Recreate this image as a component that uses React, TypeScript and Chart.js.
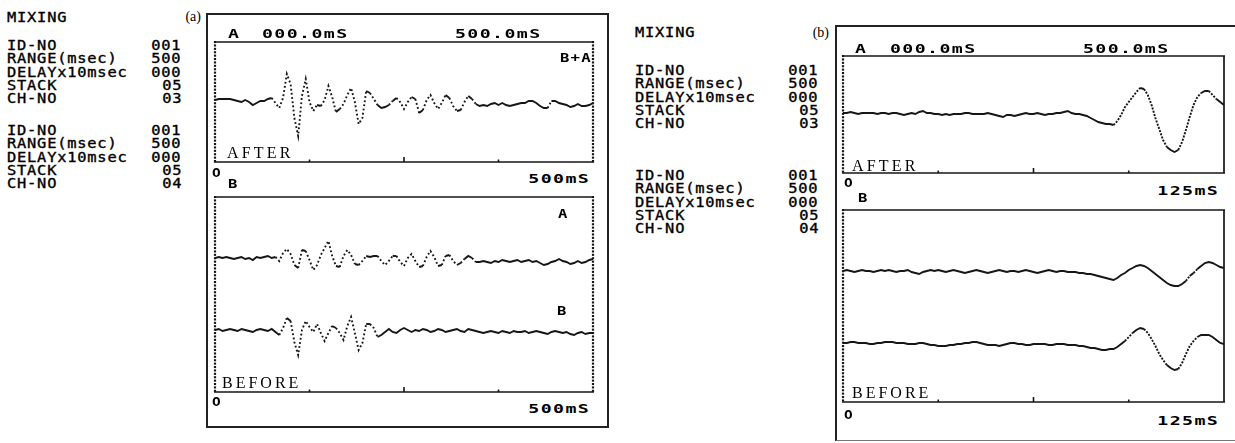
import React, { useEffect, useRef } from "react";
import { Chart, registerables } from "chart.js";

Chart.register(...registerables);

// ---------------- data ----------------
const A_RANGE_MS = 500;
const A_STEP_MS = 5;
const B_RANGE_MS = 125;
const B_STEP_MS = 1.25;

// (a) AFTER, trace "B+A" (amplitude, screen px units, + = up)
const aAfterBplusA = [
  0, 1, 1, 1, 1, 0, -1, -2, 0, -2,
  -5, -3, -1, -1, 1, 2, -3, -8, 2, 26,
  16, -18, -36, 4, 21, -2, -11, -5, -6, 0,
  14, 3, -12, -9, -4, 5, 12, -2, -24, -18,
  9, 7, 1, -5, -8, -7, -5, -1, 2, -2,
  -9, -2, 3, 1, -13, -10, 0, 5, -3, -9,
  -3, 5, 2, -6, -11, -10, -2, 4, 1, -4,
  -6, -5, -6, -4, -3, -5, -3, -5, -6, -5,
  -4, -3, -3, -1, -1, -3, -6, -8, -8, -1,
  -1, -3, -4, -5, -7, -6, -4, -6, -6, -5,
  -3,
];
// (a) BEFORE, trace "A"
const aBeforeA = [
  0, 1, 0, 1, 0, -1, 0, 1, -1, 0,
  -2, 1, 0, 1, 2, 0, 1, -3, 5, 9,
  4, -7, -10, 8, 7, -2, -12, -7, 3, 10,
  17, 2, -8, -9, 2, 8, 3, -6, -7, -3,
  2, 1, 2, 2, -3, -7, -3, 2, 2, -4,
  -8, 0, 4, -3, -9, -8, 1, 7, 1, -8,
  -7, 2, 3, -3, -7, -5, -1, 2, 0, -4,
  -4, -3, -4, -5, -3, -4, -2, -3, -4, -3,
  -2, -4, -3, -2, -4, -3, -5, -7, -6, -4,
  -3, -1, -3, -4, -6, -5, -3, -5, -4, -2,
  -1,
];
// (a) BEFORE, trace "B"
const aBeforeB = [
  0, 1, -1, 0, 1, 0, -1, 1, 0, -1,
  -2, 0, 1, 0, -1, 1, -2, -5, 2, 12,
  9, -12, -25, 0, 9, 3, -2, 6, -3, -11,
  -3, 4, 2, -3, -10, 4, 13, -3, -20, -13,
  6, 6, 2, -7, -5, -2, 1, -2, -3, 0,
  2, 0, -2, 0, -1, 1, 0, -2, -1, 1,
  0, -2, -1, 0, 1, -1, -2, 1, 0, -1,
  -2, -3, -2, -1, -2, -3, -1, -2, -3, -1,
  -2, -2, -1, -3, -2, -1, -2, -3, -4, -2,
  -1, -2, -3, -2, -4, -5, -3, -2, -4, -3,
  -3,
];
// (b) AFTER
const bAfter = [
  0, 0, 1, 0, -1, 0, 0, 0, 0, -1,
  0, 0, -1, 0, 0, -1, -2, -1, 0, -1,
  1, 2, 0, 0, -1, -1, -2, -1, -2, -1,
  -1, -1, 0, 0, -1, -1, -1, -1, 0, -1,
  -2, -3, -4, -2, -2, -3, -2, -1, 0, -1,
  -1, 0, -1, -2, -1, -1, 0, 0, 1, 2,
  0, -1, -1, -2, -3, -5, -7, -9, -10, -11,
  -11, -12, -8, -2, 6, 11, 16, 21, 25, 24,
  18, 8, -5, -16, -27, -34, -37, -39, -37, -29,
  -17, -4, 8, 16, 20, 22, 22, 18, 14, 11,
  8,
];
// (b) BEFORE, upper trace
const bBeforeA = [
  0, 1, 0, -1, 0, 1, 0, 0, -1, 0,
  1, 0, 1, 0, -1, 0, 0, 1, -1, -2,
  -3, -1, 0, 1, 0, 1, 0, -1, 0, 1,
  0, -1, -2, -1, 0, 1, 0, -1, -2, -1,
  0, 1, 0, -1, 0, 0, -1, 0, 1, 0,
  -1, -2, -1, 0, 1, 0, -1, 0, 0, -1,
  -1, -1, -2, -2, -3, -3, -4, -5, -6, -7,
  -8, -9, -7, -4, -2, 1, 3, 5, 6, 5,
  3, 0, -3, -6, -9, -12, -14, -15, -15, -13,
  -10, -5, -2, 2, 5, 8, 9, 8, 6, 4,
  3,
];
// (b) BEFORE, lower trace
const bBeforeB = [
  0, 0, 1, 1, 0, 0, 0, -1, -1, 0,
  0, 1, 1, 1, 0, 0, 0, -1, -1, -1,
  0, 0, -1, -2, -2, -3, -3, -3, -2, -2,
  -1, -1, 0, 0, 1, 1, 0, -1, -2, -2,
  -2, -3, -2, -1, 0, 0, -1, -1, -2, -2,
  -1, -1, -1, -1, -2, -2, -1, -1, -1, -2,
  -2, -2, -3, -3, -4, -5, -5, -6, -7, -7,
  -6, -6, -4, -1, 2, 6, 10, 13, 15, 14,
  10, 4, -3, -11, -17, -22, -25, -27, -26, -20,
  -11, -3, 2, 6, 8, 8, 8, 6, 3, 0,
  -1,
];

const infoLabels = ["ID-NO", "RANGE(msec)", "DELAYx10msec", "STACK", "CH-NO"];
const infoValuesCh3 = ["001", "500", "000", "05", "03"];
const infoValuesCh4 = ["001", "500", "000", "05", "04"];

// ---------------- style ----------------
const PAGE_W = 1235;
const PAGE_H = 443;
const INK = "#161616";
const MONO = '"DejaVu Sans Mono", "Liberation Mono", monospace';
const SERIF = '"Liberation Serif", "DejaVu Serif", serif';
const PAD = 6;

type Box = { x: number; y: number; w: number; h: number };
type Series = { values: number[]; min: number; max: number; dash: number[] };

function framePlugin(rightDotted: boolean) {
  return {
    id: "scopeFrame",
    afterDatasetsDraw(chart: any) {
      const { ctx, chartArea } = chart;
      const { left, right, top, bottom } = chartArea;
      ctx.save();
      ctx.strokeStyle = INK;
      ctx.fillStyle = INK;
      ctx.lineWidth = 1.7;
      ctx.beginPath();
      ctx.moveTo(left - 1, top);
      ctx.lineTo(right + 1, top);
      ctx.moveTo(left - 1, bottom);
      ctx.lineTo(right + 1, bottom);
      if (!rightDotted) {
        ctx.moveTo(right, top);
        ctx.lineTo(right, bottom);
      }
      ctx.stroke();
      for (let y = top; y <= bottom; y += 3.4) {
        ctx.fillRect(left - 1.1, y - 1, 2.2, 2.1);
        if (rightDotted) ctx.fillRect(right - 1.1, y - 1, 2.2, 2.1);
      }
      const xs = chart.scales.x;
      [1, 2, 3].forEach((k) => {
        const px = xs.getPixelForValue((xs.max * k) / 4);
        const h = k === 2 ? 5 : 2.5;
        ctx.fillRect(px - 0.8, bottom - h, 1.6, h);
      });
      ctx.restore();
    },
  };
}

function Scope({ box, xMax, step, series, rightDotted }: { box: Box; xMax: number; step: number; series: Series[]; rightDotted: boolean }) {
  const ref = useRef<HTMLCanvasElement>(null);
  useEffect(() => {
    const canvas = ref.current;
    if (!canvas) return;
    const scales: any = { x: { type: "linear", min: 0, max: xMax, display: false } };
    series.forEach((s, k) => {
      scales["y" + k] = { type: "linear", min: s.min, max: s.max, display: false };
    });
    const datasets = series.map((s, k) => ({
      data: s.values.map((v, i) => ({ x: i * step, y: v })),
      yAxisID: "y" + k,
      showLine: true,
      pointRadius: 0,
      borderWidth: 1.9,
      borderColor: INK,
      tension: 0,
      segment: {
        borderDash: (ctx: any) => (Math.abs(ctx.p1.parsed.y - ctx.p0.parsed.y) > 3 ? s.dash : undefined),
      },
    }));
    const chart = new Chart(canvas, {
      type: "line",
      data: { datasets } as any,
      options: {
        responsive: false,
        animation: false,
        events: [],
        layout: { padding: PAD },
        plugins: { legend: { display: false }, tooltip: { enabled: false } },
        scales,
      } as any,
      plugins: [framePlugin(rightDotted)],
    });
    return () => chart.destroy();
  }, []);
  const w = box.w + 2 * PAD;
  const h = box.h + 2 * PAD;
  return (
    <canvas
      ref={ref}
      width={w}
      height={h}
      style={{ position: "absolute", left: box.x - PAD, top: box.y - PAD, width: w, height: h }}
    />
  );
}

type LP = {
  x: number;
  y: number;
  text: string;
  font?: string;
  size?: number;
  ls?: number;
  sx?: number;
  stroke?: number;
  align?: "left" | "right";
  weight?: any;
};
function Label({ x, y, text, font = MONO, size = 14, ls = 0, sx = 1, stroke = 0, align = "left", weight = "normal" }: LP) {
  const lh = size + 4;
  const style: any = {
    position: "absolute",
    top: y - lh / 2,
    lineHeight: lh + "px",
    fontFamily: font,
    fontSize: size,
    letterSpacing: ls,
    fontWeight: weight,
    whiteSpace: "pre",
    color: "#000",
    transform: sx !== 1 ? `scaleX(${sx})` : undefined,
    transformOrigin: align === "left" ? "left center" : "right center",
  };
  if (stroke) style.WebkitTextStroke = `${stroke}px #000`;
  if (align === "left") style.left = x;
  else style.right = PAGE_W - x - ls * sx;
  return <div style={style}>{text}</div>;
}

const INFO = { size: 14, ls: 0.7, sx: 1.1, stroke: 0.35 };
const HDR = { size: 13, ls: 1, sx: 1.4, weight: "bold" };
const SMALL = { size: 13, ls: 1, sx: 1.2, weight: "bold" };

function InfoBlock({ x, valueRight, y0, values }: { x: number; valueRight: number; y0: number; values: string[] }) {
  return (
    <>
      {infoLabels.map((t, k) => (
        <Label key={"l" + k} x={x} y={y0 + k * 13.3} text={t} {...INFO} />
      ))}
      {values.map((t, k) => (
        <Label key={"v" + k} x={valueRight} y={y0 + k * 13.3} text={t} {...INFO} align="right" />
      ))}
    </>
  );
}

const A_DASH = [1.8, 2.4];
const B_DASH = [2, 1.4];

export default function App() {
  return (
    <div
      style={{
        position: "absolute",
        left: 0,
        top: 0,
        width: PAGE_W,
        height: PAGE_H,
        background: "#fff",
        overflow: "hidden",
      }}
    >
      {/* outer frames */}
      <div style={{ position: "absolute", left: 206, top: 13, width: 403, height: 415, border: "2px solid #222", boxSizing: "border-box" }} />
      <div
        style={{
          position: "absolute",
          left: 835,
          top: 25,
          width: 420,
          height: 416,
          borderLeft: "2px solid #222",
          borderTop: "2px solid #222",
          borderBottom: "1px solid #777",
          boxSizing: "border-box",
        }}
      />

      {/* (a) */}
      <Scope
        box={{ x: 215, y: 42, w: 378, h: 120 }}
        xMax={A_RANGE_MS}
        step={A_STEP_MS}
        rightDotted={true}
        series={[{ values: aAfterBplusA, min: -62, max: 58, dash: A_DASH }]}
      />
      <Scope
        box={{ x: 215, y: 197, w: 378, h: 195 }}
        xMax={A_RANGE_MS}
        step={A_STEP_MS}
        rightDotted={true}
        series={[
          { values: aBeforeA, min: -134, max: 61, dash: A_DASH },
          { values: aBeforeB, min: -62, max: 133, dash: A_DASH },
        ]}
      />
      {/* (b) */}
      <Scope
        box={{ x: 843, y: 56, w: 381, h: 117 }}
        xMax={B_RANGE_MS}
        step={B_STEP_MS}
        rightDotted={false}
        series={[{ values: bAfter, min: -60, max: 57, dash: B_DASH }]}
      />
      <Scope
        box={{ x: 843, y: 210, w: 381, h: 192 }}
        xMax={B_RANGE_MS}
        step={B_STEP_MS}
        rightDotted={false}
        series={[
          { values: bBeforeA, min: -131, max: 61, dash: B_DASH },
          { values: bBeforeB, min: -59, max: 133, dash: B_DASH },
        ]}
      />

      {/* left info (a) */}
      <Label x={7} y={17} text="MIXING" {...INFO} />
      <Label x={201} y={17} text="(a)" font={SERIF} size={14} align="right" />
      <InfoBlock x={7} valueRight={181} y0={45} values={infoValuesCh3} />
      <InfoBlock x={7} valueRight={181} y0={130} values={infoValuesCh4} />

      {/* middle info (b) */}
      <Label x={635} y={32} text="MIXING" {...INFO} />
      <Label x={829} y={33} text="(b)" font={SERIF} size={14} align="right" />
      <InfoBlock x={635} valueRight={818} y0={70} values={infoValuesCh3} />
      <InfoBlock x={635} valueRight={818} y0={175} values={infoValuesCh4} />

      {/* (a) scope texts */}
      <Label x={228} y={33} text="A" {...HDR} />
      <Label x={262} y={33} text="000.0mS" {...HDR} />
      <Label x={455} y={33} text="500.0mS" {...HDR} />
      <Label x={560} y={57} text="B+A" {...SMALL} />
      <Label x={227} y={153} text="AFTER" font={SERIF} size={16} ls={3.2} />
      <Label x={212} y={173} text="O" size={12} weight="bold" sx={1.2} />
      <Label x={228} y={183} text="B" {...SMALL} />
      <Label x={589} y={178} text="500mS" {...HDR} align="right" />
      <Label x={558} y={213} text="A" {...SMALL} />
      <Label x={557} y={310} text="B" {...SMALL} />
      <Label x={222} y={383} text="BEFORE" font={SERIF} size={16} ls={3} />
      <Label x={212} y={402} text="O" size={12} weight="bold" sx={1.2} />
      <Label x={589} y={408} text="500mS" {...HDR} align="right" />

      {/* (b) scope texts */}
      <Label x={855} y={48} text="A" {...HDR} />
      <Label x={890} y={48} text="000.0mS" {...HDR} />
      <Label x={1083} y={48} text="500.0mS" {...HDR} />
      <Label x={852} y={166} text="AFTER" font={SERIF} size={16} ls={3.2} />
      <Label x={844} y={183} text="O" size={12} weight="bold" sx={1.2} />
      <Label x={858} y={197} text="B" {...SMALL} />
      <Label x={1218} y={190} text="125mS" {...HDR} align="right" />
      <Label x={852} y={393} text="BEFORE" font={SERIF} size={16} ls={3} />
      <Label x={844} y={415} text="O" size={12} weight="bold" sx={1.2} />
      <Label x={1218} y={420} text="125mS" {...HDR} align="right" />
    </div>
  );
}
